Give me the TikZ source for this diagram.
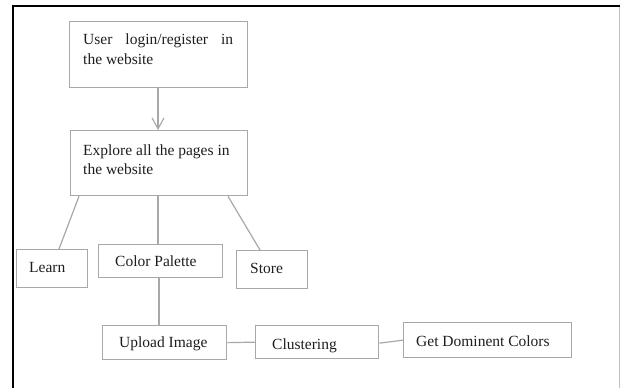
\documentclass[tikz,border=0pt]{standalone}
\usepackage{fontspec}
\setmainfont{Liberation Serif}
\usetikzlibrary{arrows.meta}
\definecolor{boxgray}{HTML}{A8A8A8}
\definecolor{txt}{HTML}{1E1E1E}
\tikzset{
  box/.style={draw=boxgray, line width=1.3pt, rectangle, inner sep=0pt, anchor=north west},
  conn/.style={draw=boxgray, line width=1.2pt},
  lbl/.style={anchor=base west, inner sep=0pt, text=txt, font=\fontsize{15.5}{18}\selectfont}
}
\begin{document}
\begin{tikzpicture}[x=1pt,y=-1pt]
\useasboundingbox[fill=white] (0,0) rectangle (621,388);
% frame
\draw[black, line width=2.2pt] (13,388) -- (13,6) -- (620,6);
\draw[boxgray!70, line width=0.8pt] (619,7) -- (619,388);
% boxes
\node[box, minimum width=178pt, minimum height=66pt] (b1) at (69,21) {};
\node[box, minimum width=177pt, minimum height=65pt] (b2) at (70,130) {};
\node[box, minimum width=71pt, minimum height=38pt] (learn) at (16,249) {};
\node[box, minimum width=124pt, minimum height=33pt] (cp) at (98,244) {};
\node[box, minimum width=71pt, minimum height=38pt] (store) at (236,250) {};
\node[box, minimum width=124pt, minimum height=34pt] (up) at (102,325) {};
\node[box, minimum width=123pt, minimum height=33pt] (cl) at (255,325) {};
\node[box, minimum width=168pt, minimum height=35pt] (gd) at (403,322) {};
% texts
\node[lbl] (t1a) at (83,44) {\makebox[150pt][s]{User login/register in}};
\node[lbl] (t1b) at (83,64) {the website};
\node[lbl] (t2a) at (83,155) {Explore all the pages in};
\node[lbl] (t2b) at (83,174) {the website};
\node[lbl] (tl) at (29,272) {Learn};
\node[lbl] (tcp) at (115,266) {Color Palette};
\node[lbl] (ts) at (250,273) {Store};
\node[lbl] (tu) at (119,347) {Upload Image};
\node[lbl] (tc) at (272,349) {Clustering};
\node[lbl] (tg) at (416,346) {Get Dominent Colors};
% connectors
\draw[conn, -{Straight Barb[length=11pt,width=12pt,line width=1.1pt]}] ([xshift=89pt]b1.south west) -- ([xshift=88pt]b2.north west);
\draw[conn] ([xshift=9pt]b2.south west) -- ([xshift=43pt]learn.north west);
\draw[conn] ([xshift=88pt]b2.south west) -- ([xshift=60pt]cp.north west);
\draw[conn] ([xshift=158pt]b2.south west) -- ([xshift=24pt]store.north west);
\draw[conn] ([xshift=61pt]cp.south west) -- ([xshift=57pt]up.north west);
\draw[conn] (up.east) -- (cl.west);
\draw[conn] ([yshift=-1pt]cl.east) -- (gd.west);
\end{tikzpicture}
\end{document}
